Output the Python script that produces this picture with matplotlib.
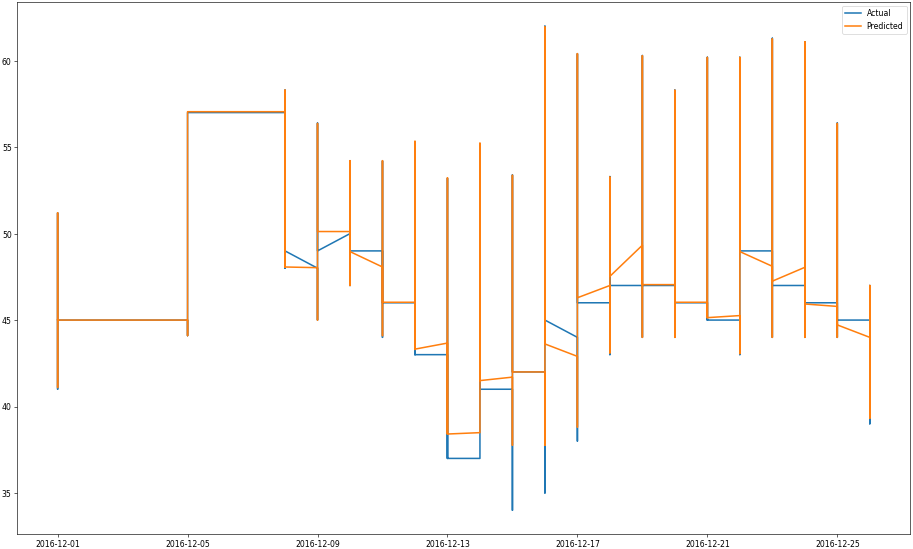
import numpy as np
import matplotlib
matplotlib.use("Agg")
import matplotlib.pyplot as plt
import matplotlib.dates as mdates

dates = ['2016-12-01', '2016-12-05', '2016-12-08', '2016-12-09', '2016-12-10',
         '2016-12-11', '2016-12-12', '2016-12-13', '2016-12-14', '2016-12-15',
         '2016-12-16', '2016-12-17', '2016-12-18', '2016-12-19', '2016-12-20',
         '2016-12-21', '2016-12-22', '2016-12-23', '2016-12-24', '2016-12-25',
         '2016-12-26']

# Per-day readings (several readings share one date stamp): first, low, high, last
actual_first = [45, 45, 57, 48, 50, 49, 46, 43, 37, 41, 42, 44, 46, 47, 47, 46, 45, 49, 47, 46, 45]
actual_low   = [41, 44.1, 48, 45, 47, 44, 43, 37, 37, 34, 35, 38, 43, 44, 44, 45, 43, 44, 44, 44, 39]
actual_high  = [51.2, 57, 58.3, 56.4, 54.2, 54.2, 55.3, 53.2, 55.2, 53.4, 62, 60.4, 53.3, 60.3,
                58.3, 60.2, 60.2, 61.3, 61.1, 56.4, 47]
actual_last  = [45, 57, 49, 49, 49, 46, 43, 37, 41, 42, 45, 46, 47, 47, 46, 45, 49, 47, 46, 45, 45]

pred_first = [45, 45, 57.05, 48.03, 50.12, 48.07, 46.03, 43.67, 38.49, 41.7, 42.0, 42.9, 47.0,
              49.33, 47.05, 46.03, 45.26, 48.11, 48.05, 45.79, 44.0]
pred_low   = [41.1, 44.1, 48.05, 45, 47, 44.1, 43.3, 38.41, 38.49, 37.76, 37.76, 38.81, 43.1,
              44, 44, 45.14, 43.06, 44, 44, 44, 39.32]
pred_high  = [51.2, 57.05, 58.3, 56.37, 54.22, 54.22, 55.34, 53.23, 55.23, 53.37, 61.95, 60.41,
              53.27, 60.29, 58.29, 60.19, 60.19, 61.26, 61.1, 56.37, 47.0]
pred_last  = [45, 57.05, 48.07, 50.12, 48.96, 46.03, 43.32, 38.41, 41.5, 42.0, 43.62, 46.29,
              47.53, 47.05, 46.03, 45.14, 48.96, 47.25, 45.93, 44.72, 44.0]

def expand(first, low, high, last):
    vals = []
    for f, lo, hi, la in zip(first, low, high, last):
        vals.extend([f, lo, hi, la])
    return np.array(vals, dtype=float)

x = np.repeat(np.array(dates, dtype='datetime64[D]'), 4)
actual = expand(actual_first, actual_low, actual_high, actual_last)
predicted = expand(pred_first, pred_low, pred_high, pred_last)

dpi = 55.4
fig = plt.figure(figsize=(913.4 / dpi, 549.4 / dpi), dpi=dpi)
ax = fig.add_axes([17 / 913, 14.5 / 549, (910 - 17) / 913, (534.5 - 2.3) / 549])
ax.plot(x, actual, label='Actual', linewidth=2.0)
ax.plot(x, predicted, label='Predicted', linewidth=2.0)
ax.xaxis.set_major_locator(mdates.DayLocator(bymonthday=[1, 5, 9, 13, 17, 21, 25]))
ax.xaxis.set_major_formatter(mdates.DateFormatter('%Y-%m-%d'))
ax.legend(loc='upper right')
fig.savefig('out.png', dpi=dpi)
